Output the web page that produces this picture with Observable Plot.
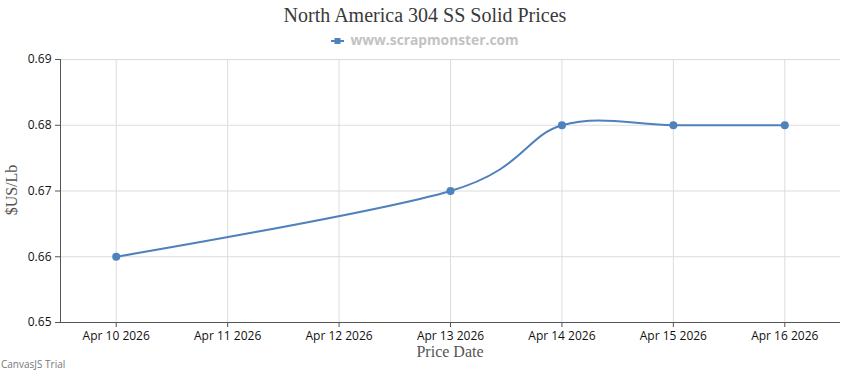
<!DOCTYPE html>
<html>
<head>
<meta charset="utf-8">
<script src="https://cdn.jsdelivr.net/npm/d3@7"></script>
<script src="https://cdn.jsdelivr.net/npm/@observablehq/plot@0.6"></script>
<style>
  html, body { margin: 0; padding: 0; background: #fff; }
  #wrap { position: relative; width: 850px; height: 370px; overflow: hidden; }
  #wrap svg { position: absolute; left: 0; top: 0; }
  .ov { position: absolute; white-space: nowrap; }
  #title { left: 0; width: 850px; top: 4px; text-align: center; font-family: "Liberation Serif", serif; font-size: 20px; color: #3a3a3a; }
  #legend { left: 0; width: 850px; top: 30px; text-align: center; font-family: "Open Sans", sans-serif; font-weight: bold; font-size: 13.8px; color: #c2c2c2; }
  #legend svg { position: static; vertical-align: middle; margin-right: 6px; }
  #xlabel { left: 60px; width: 780px; top: 346px; line-height: 12px; text-align: center; font-family: "Liberation Serif", serif; font-size: 16px; color: #555; }
  #ylabel { left: 12px; top: 190px; transform: translate(-50%, -50%) rotate(-90deg); font-family: "Liberation Serif", serif; font-size: 16px; color: #555; }
  #trial { left: 1px; top: 357px; font-family: "Open Sans", sans-serif; font-size: 10px; color: #777; }
</style>
</head>
<body>
<div id="wrap">
  <div class="ov" id="title"></div>
  <div class="ov" id="legend"></div>
  <div class="ov" id="xlabel"></div>
  <div class="ov" id="ylabel"></div>
  <div class="ov" id="trial">CanvasJS Trial</div>
</div>
<script>
// ---- data ----
const titleText = "North America 304 SS Solid Prices";
const seriesName = "www.scrapmonster.com";
const xTitle = "Price Date";
const yTitle = "$US/Lb";
const dates = ["2026-04-10", "2026-04-13", "2026-04-14", "2026-04-15", "2026-04-16"];
const prices = [0.66, 0.67, 0.68, 0.68, 0.68];
const xTickDates = ["2026-04-10", "2026-04-11", "2026-04-12", "2026-04-13", "2026-04-14", "2026-04-15", "2026-04-16"];
const yTicks = [0.65, 0.66, 0.67, 0.68, 0.69];
const xDomain = ["2026-04-09T12:00Z", "2026-04-16T12:00Z"];
const yDomain = [0.65, 0.69];

const color = "#4F81BC";
const data = dates.map((d, i) => ({date: new Date(d + "T00:00Z"), price: prices[i]}));
const xTicks = xTickDates.map(d => new Date(d + "T00:00Z"));
const fmt = d3.utcFormat("%b %-d %Y");

document.getElementById("title").textContent = titleText;
document.getElementById("xlabel").textContent = xTitle;
document.getElementById("ylabel").textContent = yTitle;
document.getElementById("legend").innerHTML =
  `<svg width="13" height="8"><line x1="0" y1="4" x2="13" y2="4" stroke="${color}" stroke-width="2"/><rect x="3.5" y="1" width="6" height="6" fill="${color}"/></svg>` +
  `<span></span>`;
document.querySelector("#legend span").textContent = seriesName;

const chart = Plot.plot({
  width: 850,
  height: 370,
  marginTop: 59,
  marginBottom: 48,
  marginLeft: 60,
  marginRight: 10,
  style: {fontFamily: "Open Sans, sans-serif", fontSize: "12px", color: "#111", background: "transparent"},
  x: {type: "utc", domain: xDomain.map(d => new Date(d)), ticks: xTicks, tickFormat: fmt, label: null, tickSize: 5, tickPadding: 4},
  y: {domain: yDomain, ticks: yTicks, tickFormat: d3.format(".2f"), label: null, tickSize: 5, tickPadding: 4},
  marks: [
    Plot.gridX(xTicks, {stroke: "#dcdcdc", strokeOpacity: 1, strokeWidth: 1}),
    Plot.gridY(yTicks, {stroke: "#dcdcdc", strokeOpacity: 1, strokeWidth: 1}),
    Plot.axisX({ticks: xTicks, tickFormat: fmt, tickSize: 5, tickPadding: 4, stroke: "#555", fontSize: 12}),
    Plot.axisY({ticks: yTicks, tickFormat: d3.format(".2f"), tickSize: 5, tickPadding: 4, stroke: "#555", fontSize: 12}),
    Plot.ruleX([xDomain[0]].map(d => new Date(d)), {stroke: "#555", strokeWidth: 1}),
    Plot.ruleY([yDomain[0]], {stroke: "#555", strokeWidth: 1}),
    Plot.line(data, {x: "date", y: "price", stroke: color, strokeWidth: 2, curve: "cardinal"}),
    Plot.dot(data, {x: "date", y: "price", r: 4, fill: color, stroke: "none"})
  ]
});
document.getElementById("wrap").prepend(chart);
</script>
</body>
</html>
